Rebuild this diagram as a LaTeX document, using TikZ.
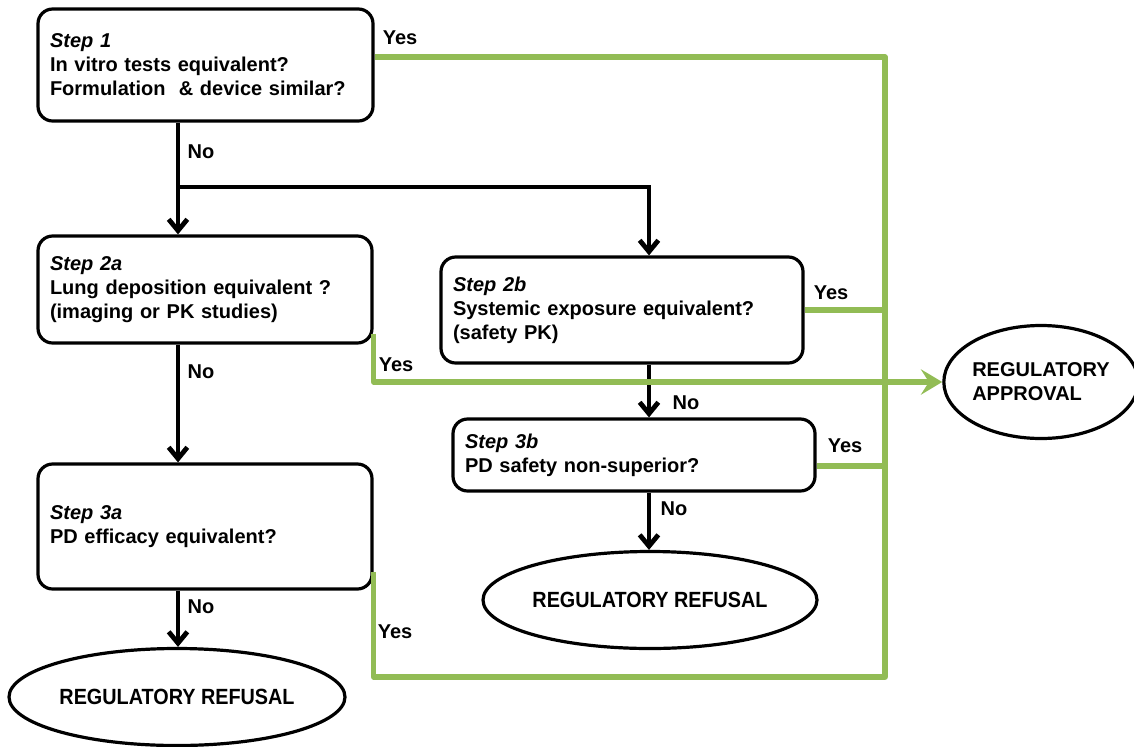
\documentclass[tikz,border=0pt]{standalone}
\usepackage{fontspec}
\setmainfont{Liberation Sans}
\usetikzlibrary{arrows.meta,shapes.geometric}
\definecolor{lgreen}{HTML}{92BC55}
\begin{document}
\begin{tikzpicture}[x=0.75pt,y=-0.75pt,
  every node/.style={font=\fontsize{15}{18}\selectfont\bfseries},
  box/.style={draw, line width=2.4pt, rounded corners=11pt, fill=white, align=left, inner xsep=9pt},
  oval/.style={draw, ellipse, line width=2.4pt, fill=white, inner sep=0pt},
  ovaltext/.style={font=\fontsize{16.5}{18}\selectfont\bfseries},
  blk/.style={line width=3.6pt},
  blkarrow/.style={line width=3.6pt, -{Straight Barb[length=8.5pt,width=14pt]}},
  grn/.style={line width=3.8pt, lgreen, line join=round},
  grnarrow/.style={line width=3.8pt, lgreen, line join=round, -{Stealth[length=16pt,width=19pt,inset=6pt]}},
  lbl/.style={inner sep=0pt}
]
\useasboundingbox (0,0) rectangle (1134,746);

% boxes
\node[box, minimum width=251.25pt, minimum height=84pt, text width=233.25pt] (b1) at (205.5,65)
  {{\itshape Step 1}\\In vitro tests equivalent?\\Formulation~ \& device similar?};
\node[box, minimum width=250.5pt, minimum height=80.25pt, text width=232.5pt] (b2a) at (205,289.5)
  {{\itshape Step 2a}\\Lung deposition equivalent ?\\(imaging or PK studies)};
\node[box, minimum width=271.5pt, minimum height=79.5pt, text width=253.5pt] (b2b) at (622,310)
  {{\itshape Step 2b}\\Systemic exposure equivalent?\\(safety PK)};
\node[box, minimum width=250.5pt, minimum height=93.75pt, text width=232.5pt] (b3a) at (205,526.5)
  {{\itshape Step 3a}\\PD efficacy equivalent?};
\node[box, minimum width=271.5pt, minimum height=54pt, text width=253.5pt] (b3b) at (634,455)
  {{\itshape Step 3b}\\PD safety non-superior?};

% ovals
\node[oval, ovaltext, minimum width=252pt, minimum height=72.75pt] (ref1) at (177,697) {\scalebox{0.9}[1]{REGULATORY REFUSAL}};
\node[oval, ovaltext, minimum width=250.5pt, minimum height=72.75pt] (ref2) at (650,600) {\scalebox{0.9}[1]{REGULATORY REFUSAL}};
\node[oval, minimum width=138pt, minimum height=84.75pt, align=left] (appr) at (1041,382) {REGULATORY\\APPROVAL};

% helper coordinates
\coordinate (sp) at (178,187);
\coordinate (cb) at (649,187);
\coordinate (gbr) at (885,677);

% black connectors
\draw[blk] (b1.south -| sp) -- (sp);
\draw[blkarrow] (sp) -- (b2a.north -| sp);
\draw[blkarrow] (sp) -| (b2b.north -| cb);
\draw[blkarrow] (b2a.south -| sp) -- (b3a.north -| sp);
\draw[blkarrow] (b3a.south -| sp) -- (ref1.north -| sp);
\draw[blkarrow] (b2b.south -| cb) -- (b3b.north -| cb);
\draw[blkarrow] (b3b.south -| cb) -- (ref2.north -| cb);

% green connectors
\draw[grn] ([yshift=6pt]b1.east) -| (gbr) -| ([yshift=14.25pt]b3a.south east);
\draw[grn] (b2b.east) -- (b2b.east -| gbr);
\draw[grn] ([yshift=-8.25pt]b3b.east) -- ([yshift=-8.25pt]b3b.east -| gbr);
\draw[grnarrow] ([yshift=8pt]b2a.south east) |- (appr.west);

% labels
\node[lbl] (y1) at (400,38) {Yes};
\node[lbl] (n1) at (201,152) {No};
\node[lbl] (y2b) at (831,293) {Yes};
\node[lbl] (y2a) at (396,365) {Yes};
\node[lbl] (n2a) at (201,372) {No};
\node[lbl] (n2b) at (686,403) {No};
\node[lbl] (y3b) at (845,446) {Yes};
\node[lbl] (n3b) at (674,509) {No};
\node[lbl] (y3a) at (395,632) {Yes};
\node[lbl] (n3a) at (201,607) {No};
\end{tikzpicture}
\end{document}
